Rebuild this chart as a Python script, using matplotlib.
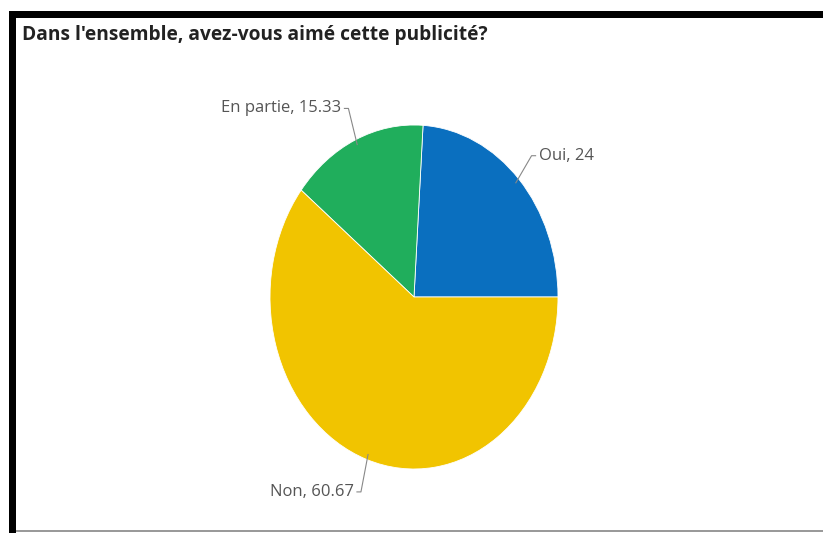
import numpy as np
import matplotlib
matplotlib.use("Agg")
import matplotlib.pyplot as plt
from matplotlib.patches import Rectangle

# Survey answers (percent)
categories = ["Oui", "En partie", "Non"]
values = [24, 15.33, 60.67]
labels = ["Oui, 24", "En partie, 15.33", "Non, 60.67"]
colors = ["#0a6fbf", "#20ae5c", "#f1c400"]
title = "Dans l'ensemble, avez-vous aimé cette publicité?"

W, H = 823, 533
fig = plt.figure(figsize=(W / 100, H / 100), dpi=100)
fig.patch.set_facecolor("white")

def px_rect(x0, y0, x1, y1, color):
    # rectangle given in pixel coordinates measured from the top-left corner
    fig.patches.append(Rectangle((x0 / W, 1 - y1 / H), (x1 - x0) / W, (y1 - y0) / H,
                                 transform=fig.transFigure, color=color, lw=0, zorder=0))

# frame bars
px_rect(9, 11, W, 18, "black")
px_rect(9, 11, 16, H, "black")
px_rect(16, 530, W, 532, "#9a9a9a")

fig.text(22 / W, 1 - 35 / H, title, fontsize=13.8, fontweight="bold",
         family=["Open Sans", "DejaVu Sans"], color="#222222", va="center", ha="left")

# pie axes: center (414, 297) px, radii 144 x 172 px
cx, cy, rx, ry = 414, 297, 144, 172
ax = fig.add_axes([(cx - rx) / W, (H - cy - ry) / H, 2 * rx / W, 2 * ry / H])
wedges, _ = ax.pie(values, colors=colors, startangle=0, counterclock=True,
                   wedgeprops=dict(linewidth=0.6, edgecolor="white"))
ax.set_aspect("auto")
ax.set_xlim(-1, 1)
ax.set_ylim(-1, 1)
ax.axis("off")

# connector labels
px = 1.0 / rx  # one pixel in data units (x)
for w, lab in zip(wedges, labels):
    ang = np.deg2rad((w.theta1 + w.theta2) / 2)
    c, s = np.cos(ang), np.sin(ang)
    p0 = (0.97 * c, 0.97 * s)
    p1 = (1.12 * c, 1.2 * s)
    side = 1 if c >= 0 else -1
    p2 = (p1[0] + side * 4 * px, p1[1])
    ax.plot([p0[0], p1[0], p2[0]], [p0[1], p1[1], p2[1]],
            color="#888888", lw=0.8, clip_on=False, solid_joinstyle="round")
    ax.text(p2[0] + side * 3 * px, p2[1], lab, fontsize=12,
            family=["Open Sans", "DejaVu Sans"], color="#555555",
            ha="left" if side > 0 else "right", va="center", clip_on=False)

fig.savefig("out.png", dpi=100)
